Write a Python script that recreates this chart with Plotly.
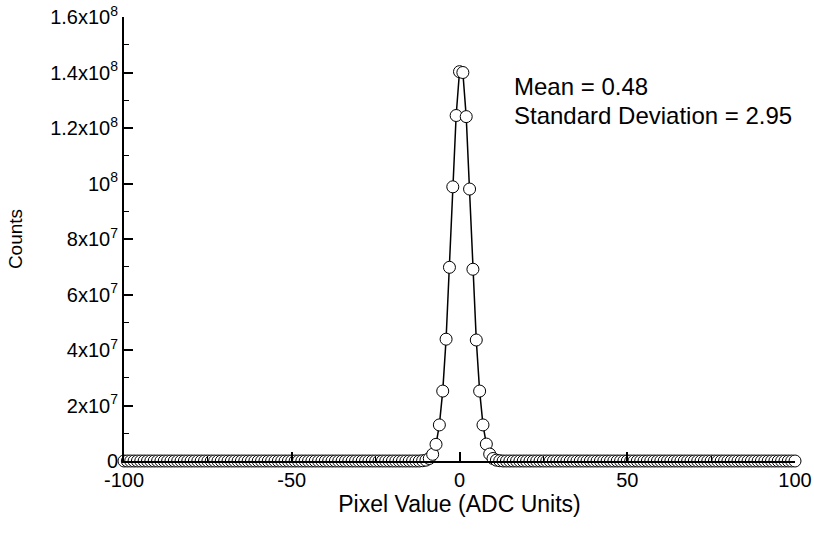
import plotly.graph_objects as go

# Pixel values (ADC units), one bin per integer from -100 to 100
pixel_value = list(range(-100, 101))

# Counts per bin, in millions
left_tail = [
    0, 0, 0, 0, 0, 0, 0, 0, 0, 0,
    0, 0, 0, 0, 0, 0, 0, 0, 0, 0,
    0, 0, 0, 0, 0, 0, 0, 0, 0, 0,
    0, 0, 0, 0, 0, 0, 0, 0, 0, 0,
    0, 0, 0, 0, 0, 0, 0, 0, 0, 0,
    0, 0, 0, 0, 0, 0, 0, 0, 0, 0,
    0, 0, 0, 0, 0, 0, 0, 0, 0, 0,
    0, 0, 0, 0, 0, 0, 0, 0, 0, 0,
    0, 0, 0, 0, 0, 0, 0, 0, 0,
]  # x = -100 .. -12
peak = [
    0.1, 0.3, 0.9, 2.4, 6.0, 13.0, 25.2, 43.9, 69.8, 98.8, 124.5, 140.3,
    140.0, 124.1, 98.0, 69.1, 43.6, 25.2, 13.0, 6.1, 2.5, 0.9, 0.3, 0.1,
]  # x = -11 .. 12
right_tail = [
    0, 0, 0, 0, 0, 0, 0, 0, 0, 0,
    0, 0, 0, 0, 0, 0, 0, 0, 0, 0,
    0, 0, 0, 0, 0, 0, 0, 0, 0, 0,
    0, 0, 0, 0, 0, 0, 0, 0, 0, 0,
    0, 0, 0, 0, 0, 0, 0, 0, 0, 0,
    0, 0, 0, 0, 0, 0, 0, 0, 0, 0,
    0, 0, 0, 0, 0, 0, 0, 0, 0, 0,
    0, 0, 0, 0, 0, 0, 0, 0, 0, 0,
    0, 0, 0, 0, 0, 0, 0, 0,
]  # x = 13 .. 100
counts_millions = left_tail + peak + right_tail
counts = [c * 1e6 for c in counts_millions]

x_tick_vals = [-100, -50, 0, 50, 100]
x_tick_text = ["-100", "-50", "0", "50", "100"]
y_tick_vals = [0, 2e7, 4e7, 6e7, 8e7, 1e8, 1.2e8, 1.4e8, 1.6e8]
y_tick_text = ["0", "2x10<sup>7</sup>", "4x10<sup>7</sup>", "6x10<sup>7</sup>",
               "8x10<sup>7</sup>", "10<sup>8</sup>", "1.2x10<sup>8</sup>",
               "1.4x10<sup>8</sup>", "1.6x10<sup>8</sup>"]

stats_lines = ["Mean = 0.48", "Standard Deviation = 2.95"]

FONT = "Liberation Sans, Arial, sans-serif"

fig = go.Figure()
fig.add_trace(go.Scatter(
    x=pixel_value, y=counts, mode="lines+markers",
    line=dict(color="black", width=1.5),
    marker=dict(symbol="circle", size=12, color="white",
                line=dict(color="black", width=1)),
    cliponaxis=False, showlegend=False,
))

fig.add_annotation(x=15.5, y=1.35e8, text=stats_lines[0], showarrow=False,
                   xanchor="left", yanchor="middle",
                   font=dict(family=FONT, size=24, color="black"))
fig.add_annotation(x=15.5, y=1.245e8, text=stats_lines[1], showarrow=False,
                   xanchor="left", yanchor="middle",
                   font=dict(family=FONT, size=24, color="black"))

fig.update_layout(
    width=814, height=533,
    margin=dict(l=124, r=19, t=17, b=72),
    paper_bgcolor="white", plot_bgcolor="white",
    font=dict(family=FONT, size=19, color="black"),
    xaxis=dict(
        range=[-100, 100], showgrid=False, zeroline=False, automargin=False,
        showline=True, linecolor="black", linewidth=2,
        ticks="inside", ticklen=9, tickwidth=1.5, tickcolor="black",
        tickvals=x_tick_vals, ticktext=x_tick_text,
        tickfont=dict(size=20),
        minor=dict(tickvals=[-75, -25, 25, 75], ticks="inside", ticklen=5,
                   tickwidth=1, tickcolor="black"),
        title=dict(text="Pixel Value (ADC Units)", font=dict(size=23), standoff=4),
    ),
    yaxis=dict(
        range=[0, 1.6e8], showgrid=False, zeroline=False, automargin=False,
        showline=True, linecolor="black", linewidth=2,
        ticks="inside", ticklen=9, tickwidth=1.5, tickcolor="black",
        tickvals=y_tick_vals, ticktext=y_tick_text,
        tickfont=dict(size=20),
        minor=dict(tickvals=[1e7, 3e7, 5e7, 7e7, 9e7, 1.1e8, 1.3e8, 1.5e8],
                   ticks="inside", ticklen=5, tickwidth=1, tickcolor="black"),
        title=dict(text="Counts", font=dict(size=19), standoff=22),
    ),
)

fig.write_html("out.html")
